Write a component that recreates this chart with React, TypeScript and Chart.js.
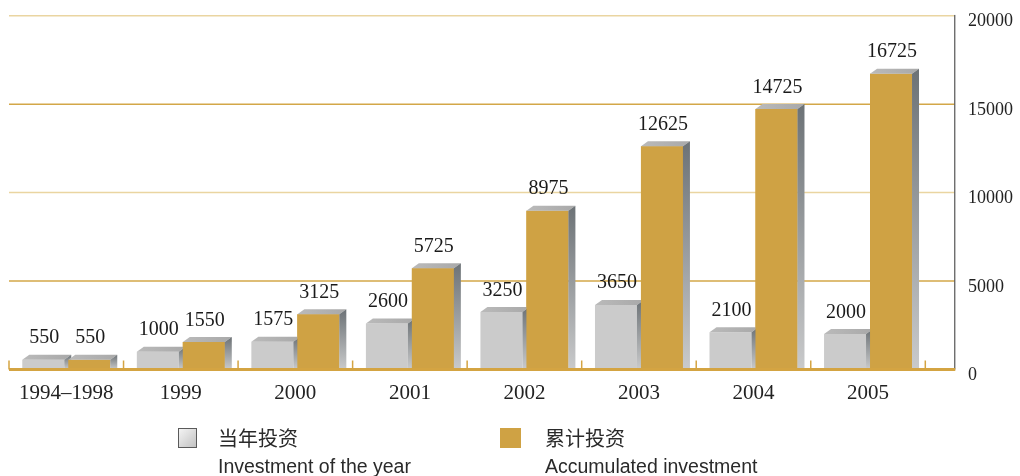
import React, { useEffect, useRef } from "react";
import { Chart, registerables } from "chart.js";

Chart.register(...registerables);

const categories = ["1994–1998", "1999", "2000", "2001", "2002", "2003", "2004", "2005"];
const annualInvestment = [550, 1000, 1575, 2600, 3250, 3650, 2100, 2000];
const accumulatedInvestment = [550, 1550, 3125, 5725, 8975, 12625, 14725, 16725];
const yTickValues = [0, 5000, 10000, 15000, 20000];
const legendZh = ["当年投资", "累计投资"];
const legendEn = ["Investment of the year", "Accumulated investment"];

const GOLD = "#cfa244";
const GREY = "#cbcbcb";
const GRID_PALE = "#ead5a1";
const GRID_DARK = "#d3a748";
const EXTRA_RIGHT = 29;

function draw3d(ctx: CanvasRenderingContext2D, els: any[]) {
  const dx = 7;
  const dy = 5;
  els.forEach((el) => {
    const { x, y, base, width } = el.getProps(["x", "y", "base", "width"], true);
    const l = x - width / 2;
    const r = x + width / 2;
    const tg = ctx.createLinearGradient(l, 0, r + dx, 0);
    tg.addColorStop(0, "#bababa");
    tg.addColorStop(1, "#a9a9a9");
    ctx.fillStyle = tg;
    ctx.beginPath();
    ctx.moveTo(l, y);
    ctx.lineTo(l + dx, y - dy);
    ctx.lineTo(r + dx, y - dy);
    ctx.lineTo(r, y);
    ctx.closePath();
    ctx.fill();
    const sg = ctx.createLinearGradient(0, y - dy, 0, base);
    sg.addColorStop(0, "#6c7276");
    sg.addColorStop(1, "#c9cacb");
    ctx.fillStyle = sg;
    ctx.beginPath();
    ctx.moveTo(r, y);
    ctx.lineTo(r + dx, y - dy);
    ctx.lineTo(r + dx, base);
    ctx.lineTo(r, base);
    ctx.closePath();
    ctx.fill();
  });
}

const bar3dPlugin = {
  id: "bar3d",
  beforeDatasetsDraw(chart: any) {
    const { ctx, chartArea, scales } = chart;
    const y = scales.y;
    const xr = chartArea.right + EXTRA_RIGHT;
    ctx.save();
    yTickValues.forEach((v) => {
      if (v === 0) return;
      const py = y.getPixelForValue(v);
      ctx.strokeStyle = (v / 5000) % 2 === 0 ? GRID_PALE : GRID_DARK;
      ctx.lineWidth = 1.5;
      ctx.beginPath();
      ctx.moveTo(chartArea.left, py);
      ctx.lineTo(xr, py);
      ctx.stroke();
    });
    ctx.strokeStyle = "#333333";
    ctx.lineWidth = 1;
    ctx.beginPath();
    ctx.moveTo(xr + 0.5, y.getPixelForValue(20000) - 0.75);
    ctx.lineTo(xr + 0.5, y.getPixelForValue(0));
    ctx.stroke();
    ctx.restore();
  },
  afterDatasetsDraw(chart: any) {
    const { ctx, chartArea, scales } = chart;
    const y = scales.y;
    const x = scales.x;
    const xr = chartArea.right + EXTRA_RIGHT;
    const m0 = chart.getDatasetMeta(0);
    const m1 = chart.getDatasetMeta(1);
    ctx.save();
    draw3d(ctx, m0.data);
    m1.data.forEach((el: any) => el.draw(ctx, chartArea));
    draw3d(ctx, m1.data);

    const y0 = y.getPixelForValue(0);
    ctx.fillStyle = "#d4a442";
    ctx.fillRect(chartArea.left, y0 - 1.5, xr - chartArea.left + 1, 3);
    const n = categories.length;
    const half = (x.getPixelForValue(1) - x.getPixelForValue(0)) / 2;
    ctx.strokeStyle = "#d4a442";
    ctx.lineWidth = 1.5;
    for (let i = 0; i <= n; i++) {
      const px = i < n ? x.getPixelForValue(i) - half : x.getPixelForValue(n - 1) + half;
      ctx.beginPath();
      ctx.moveTo(px, y0 - 9);
      ctx.lineTo(px, y0);
      ctx.stroke();
    }
    ctx.font = '20px "Liberation Serif", "Times New Roman", serif';
    ctx.fillStyle = "#1a1a1a";
    ctx.textAlign = "center";
    ctx.textBaseline = "alphabetic";
    [m0, m1].forEach((meta: any, di: number) => {
      const values = di === 0 ? annualInvestment : accumulatedInvestment;
      meta.data.forEach((el: any, i: number) => {
        const { x: bx, y: by } = el.getProps(["x", "y"], true);
        ctx.fillText(String(values[i]), bx + 1, by - 16.5);
      });
    });
    ctx.restore();
  },
};

export default function App() {
  const ref = useRef<HTMLCanvasElement | null>(null);

  useEffect(() => {
    if (!ref.current) return;
    const chart = new Chart(ref.current, {
      type: "bar",
      data: {
        labels: categories,
        datasets: [
          {
            label: legendZh[0],
            data: annualInvestment,
            backgroundColor: GREY,
            borderWidth: 0,
            categoryPercentage: 0.803,
            barPercentage: 0.913,
          },
          {
            label: legendZh[1],
            data: accumulatedInvestment,
            backgroundColor: GOLD,
            borderWidth: 0,
            categoryPercentage: 0.803,
            barPercentage: 0.913,
          },
        ],
      },
      options: {
        responsive: false,
        devicePixelRatio: 1,
        animation: false,
        layout: { padding: { left: 9, top: 15.7, right: 0, bottom: 0 } },
        plugins: {
          legend: { display: false },
          tooltip: { enabled: false },
        },
        scales: {
          x: {
            type: "category",
            grid: { display: false, drawTicks: false },
            border: { display: false },
            ticks: {
              color: "#222222",
              font: { family: '"Liberation Serif", "Times New Roman", serif', size: 21 },
              padding: 11,
              maxRotation: 0,
              autoSkip: false,
            },
            afterFit(scale: any) {
              scale.height = 106.5;
            },
          },
          y: {
            position: "right",
            min: 0,
            max: 20000,
            grid: { display: false, drawTicks: true, tickLength: 40 },
            border: { display: false },
            ticks: {
              stepSize: 5000,
              color: "#222222",
              font: { family: '"Liberation Serif", "Times New Roman", serif', size: 18 },
              padding: 2.7,
              labelOffset: 6,
              callback: (v: any) => String(v),
            },
            afterFit(scale: any) {
              scale.width = 94.7;
            },
          },
        },
      },
      plugins: [bar3dPlugin],
    });
    return () => chart.destroy();
  }, []);

  const zhStyle: React.CSSProperties = {
    position: "absolute",
    fontFamily: '"Noto Sans CJK SC", sans-serif',
    fontSize: 20,
    lineHeight: "20px",
    color: "#2a2a2a",
    whiteSpace: "nowrap",
  };
  const enStyle: React.CSSProperties = {
    position: "absolute",
    fontFamily: '"Liberation Sans", sans-serif',
    fontSize: 19.5,
    lineHeight: "20px",
    color: "#2a2a2a",
    whiteSpace: "nowrap",
  };

  return (
    <div
      style={{
        position: "fixed",
        left: 0,
        top: 0,
        width: 1020,
        height: 476,
        background: "#ffffff",
        overflow: "hidden",
      }}
    >
      <canvas ref={ref} width={1020} height={476} style={{ display: "block", width: 1020, height: 476 }} />
      <div
        style={{
          position: "absolute",
          left: 178,
          top: 428,
          width: 17,
          height: 18,
          border: "1px solid #5a5a5a",
          background: "linear-gradient(135deg, #f4f4f4, #c2c2c2)",
        }}
      />
      <div style={{ ...zhStyle, left: 218, top: 428 }}>{legendZh[0]}</div>
      <div style={{ ...enStyle, left: 218, top: 456 }}>{legendEn[0]}</div>
      <div
        style={{
          position: "absolute",
          left: 500,
          top: 428,
          width: 21,
          height: 20,
          background: GOLD,
        }}
      />
      <div style={{ ...zhStyle, left: 545, top: 428 }}>{legendZh[1]}</div>
      <div style={{ ...enStyle, left: 545, top: 456 }}>{legendEn[1]}</div>
    </div>
  );
}
